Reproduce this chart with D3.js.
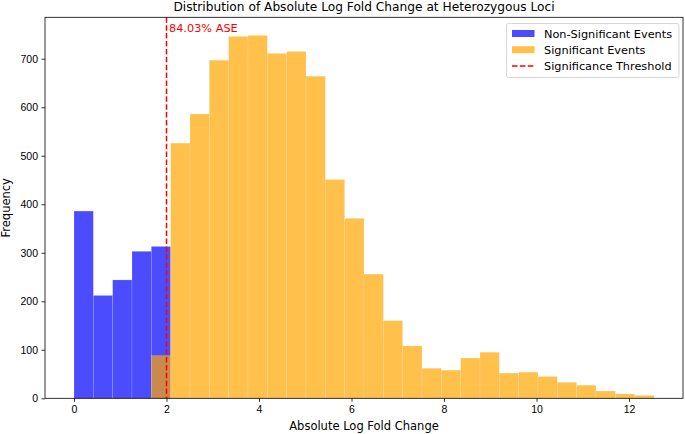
<!DOCTYPE html>
<html>
<head>
<meta charset="utf-8">
<script src="https://cdn.jsdelivr.net/npm/d3@7"></script>
<style>
    body { margin: 0; background: #fff; }
    svg { font-family: "DejaVu Sans", sans-serif; }
    .axis text { font-size: 10.5px; fill: #000; }
    .axis path, .axis line { stroke: #000; stroke-width: 0.8; }
</style>
</head>
<body>
<svg id="chart" width="685" height="434"></svg>
<script>
// histogram bin edges shared by both series
var binEdges = [0, 0.418, 0.836, 1.254, 1.672, 2.09, 2.508, 2.926, 3.344, 3.762,
    4.18, 4.598, 5.016, 5.434, 5.852, 6.27, 6.688, 7.106, 7.524, 7.942,
    8.36, 8.778, 9.196, 9.614, 10.032, 10.45, 10.868, 11.286, 11.704, 12.122, 12.54];

// counts per bin; first index into binEdges
var nonSigFirstBin = 0;
var nonSigCounts = [386, 212, 244, 303, 313];
var sigFirstBin = 4;
var sigCounts = [88, 526, 586, 697, 746, 748, 711, 715, 664, 451, 371, 256, 160, 108,
    62, 58, 83, 95, 52, 54, 45, 33, 27, 15, 9, 6];

var threshold = 2;
var thresholdLabel = "84.03% ASE";
var xTicks = [0, 2, 4, 6, 8, 10, 12];
var yTicks = [0, 100, 200, 300, 400, 500, 600, 700];
var legendLabels = ["Non-Significant Events", "Significant Events", "Significance Threshold"];

var svg = d3.select("#chart");
var margin = { top: 17.3, right: 2, bottom: 35.7, left: 45 },
    width = +svg.attr("width") - margin.left - margin.right,
    height = +svg.attr("height") - margin.top - margin.bottom;

var xMin = binEdges[0], xMax = binEdges[binEdges.length - 1];
var pad = (xMax - xMin) * 0.05;
var x = d3.scaleLinear().domain([xMin - pad, xMax + pad]).range([0, width]);
var y = d3.scaleLinear()
    .domain([0, d3.max(nonSigCounts.concat(sigCounts)) * 1.05])
    .range([height, 0]);

var g = svg.append("g")
    .attr("transform", "translate(" + margin.left + "," + margin.top + ")");

function toBins(counts, first) {
    return counts.map(function(c, i) {
        return { x0: binEdges[first + i], x1: binEdges[first + i + 1], count: c };
    });
}

function drawHist(data, cls, color) {
    g.selectAll("." + cls)
        .data(data)
        .enter().append("rect")
        .attr("class", cls)
        .attr("x", function(d) { return x(d.x0); })
        .attr("y", function(d) { return y(d.count); })
        .attr("width", function(d) { return x(d.x1) - x(d.x0); })
        .attr("height", function(d) { return height - y(d.count); })
        .attr("fill", color)
        .attr("fill-opacity", 0.7)
        .attr("stroke", "#fff")
        .attr("stroke-width", 0.5)
        .attr("stroke-opacity", 0.3);
}

drawHist(toBins(nonSigCounts, nonSigFirstBin), "bar-ns", "#0000ff");
drawHist(toBins(sigCounts, sigFirstBin), "bar-s", "#ffa500");

// threshold line
g.append("line")
    .attr("x1", x(threshold)).attr("x2", x(threshold))
    .attr("y1", 0).attr("y2", height)
    .attr("stroke", "red")
    .attr("stroke-width", 1.5)
    .attr("stroke-dasharray", "5.5,2.4");

g.append("text")
    .attr("x", x(threshold) + 2.5)
    .attr("y", 14.5)
    .attr("fill", "red")
    .style("font-size", "11.3px")
    .text(thresholdLabel);

// axes
g.append("g")
    .attr("class", "axis axis--x")
    .attr("transform", "translate(0," + height + ")")
    .call(d3.axisBottom(x).tickValues(xTicks).tickSize(3.5).tickPadding(3.5).tickFormat(d3.format("d")))
    .call(function(s) { s.select(".domain").remove(); });

g.append("g")
    .attr("class", "axis axis--y")
    .call(d3.axisLeft(y).tickValues(yTicks).tickSize(3.5).tickPadding(3.5).tickFormat(d3.format("d")))
    .call(function(s) { s.select(".domain").remove(); });

// frame
g.append("rect")
    .attr("width", width)
    .attr("height", height)
    .attr("fill", "none")
    .attr("stroke", "#000")
    .attr("stroke-width", 0.8);

// titles
svg.append("text")
    .attr("x", margin.left + width / 2)
    .attr("y", 11)
    .attr("text-anchor", "middle")
    .style("font-size", "12.2px")
    .text("Distribution of Absolute Log Fold Change at Heterozygous Loci");

svg.append("text")
    .attr("x", margin.left + width / 2)
    .attr("y", 430)
    .attr("text-anchor", "middle")
    .style("font-size", "11.5px")
    .text("Absolute Log Fold Change");

svg.append("text")
    .attr("transform", "translate(10," + (margin.top + height / 2) + ") rotate(-90)")
    .attr("text-anchor", "middle")
    .style("font-size", "11.5px")
    .text("Frequency");

// legend
var legend = svg.append("g").attr("transform", "translate(506.5,23.5)");
legend.append("rect")
    .attr("width", 172.5)
    .attr("height", 54)
    .attr("rx", 2)
    .attr("fill", "#fff")
    .attr("fill-opacity", 0.8)
    .attr("stroke", "#ccc")
    .attr("stroke-width", 0.8);

var rows = legend.selectAll(".row")
    .data(legendLabels)
    .enter().append("g")
    .attr("class", "row")
    .attr("transform", function(d, i) { return "translate(0," + (10 + i * 16.2) + ")"; });

rows.filter(function(d, i) { return i < 2; })
    .append("rect")
    .attr("x", 5.5)
    .attr("y", -3.5)
    .attr("width", 22.5)
    .attr("height", 7)
    .attr("fill", function(d, i) { return i === 0 ? "#0000ff" : "#ffa500"; })
    .attr("fill-opacity", 0.7);

rows.filter(function(d, i) { return i === 2; })
    .append("line")
    .attr("x1", 5.5).attr("x2", 28)
    .attr("stroke", "red")
    .attr("stroke-width", 1.5)
    .attr("stroke-dasharray", "5.5,2.4");

rows.append("text")
    .attr("x", 37.5)
    .attr("y", 4)
    .style("font-size", "11.3px")
    .text(function(d) { return d; });
</script>
</body>
</html>
